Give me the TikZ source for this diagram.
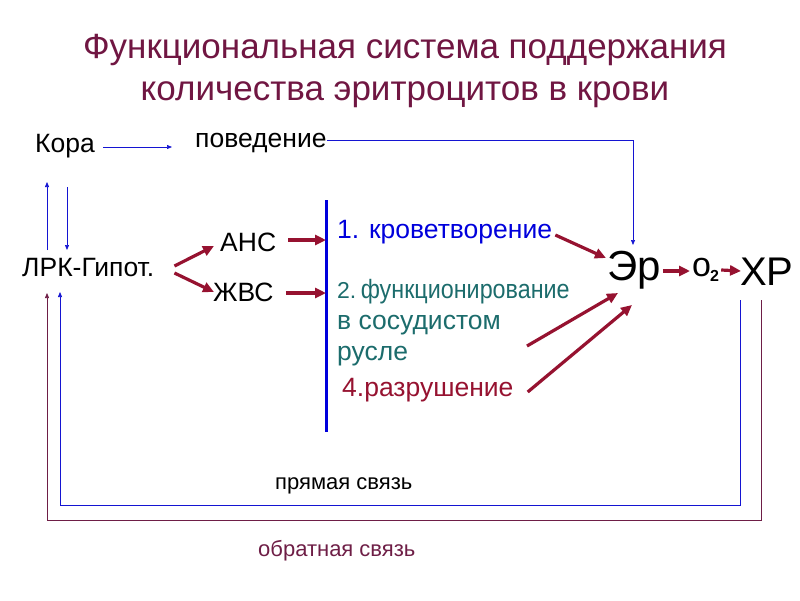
\documentclass[tikz,border=0pt]{standalone}
\usepackage{fontspec}
\setmainfont{Liberation Sans}
\usetikzlibrary{arrows.meta,positioning,calc}
\definecolor{TitlePlum}{RGB}{112,22,66}
\definecolor{ArrowRed}{RGB}{150,18,48}
\definecolor{LineBlue}{RGB}{20,20,210}
\definecolor{BarBlue}{RGB}{0,0,220}
\definecolor{TealText}{RGB}{28,108,108}
\definecolor{BackPlum}{RGB}{110,30,70}
\tikzset{
  lbl/.style={inner sep=0pt,anchor=west,font=\fontsize{26.5}{28}\selectfont},
  bigsym/.style={inner sep=0pt,anchor=west,font=\fontsize{42}{45}\selectfont},
  linktext/.style={inner sep=0pt,anchor=west,font=\fontsize{22}{24}\selectfont},
  redarrow/.style={-{Triangle[length=11pt,width=10pt]},line width=3.2pt,draw=ArrowRed},
  bluearrow/.style={-{Triangle[length=5pt,width=4pt]},line width=0.7pt,draw=LineBlue},
  backarrow/.style={-{Triangle[length=5pt,width=4pt]},line width=0.7pt,draw=BackPlum}
}
\begin{document}
\begin{tikzpicture}[x=1pt,y=-1pt]
\useasboundingbox (0,0) rectangle (800,600);
\node[align=center,text=TitlePlum,font=\fontsize{35}{42}\selectfont] (title) at (405,71)
  {Функциональная система поддержания\\количества эритроцитов в крови};

\node[lbl] (kora) at (35,146) {Кора};
\node[lbl] (povedenie) at (195,143) {поведение};
\node[lbl] (lrk) at (22,268) {ЛРК-Гипот.};
\node[lbl] (ans) at (220,242) {АНС};
\node[lbl] (zhvs) at (213,292) {ЖВС};

\coordinate (bartop) at (326,200);
\coordinate (barbot) at (326,432);
\draw[line width=3pt,draw=BarBlue] (bartop) -- (barbot);

\node[lbl,text=BarBlue] (krov) at (337,232) {1. кроветворение};
\node[lbl,text=TealText,align=left,font=\fontsize{26.5}{31}\selectfont] (func) at (337,323)
  {{\fontsize{23}{24}\selectfont 2.}\,\scalebox{0.88}[1]{функционирование}\\в сосудистом\\русле};
\node[lbl,text=ArrowRed] (razr) at (342,390) {4.разрушение};

\node[bigsym] (er) at (607,270) {Эр};
\node[inner sep=0pt,anchor=west,font=\fontsize{34}{36}\selectfont] (otwo) at (692,270)
  {o\kern-1pt\raisebox{-5pt}{\fontsize{16}{16}\selectfont\bfseries 2}};
\node[bigsym,font=\fontsize{40}{42}\selectfont] (hr) at (740,272) {ХР};

\node[linktext] (pryam) at (275,486) {прямая связь};
\node[linktext,text=BackPlum] (obrat) at (258,551) {обратная связь};

% cortex links
\draw[bluearrow] ($(kora.east)+(8,1)$) -- ($(povedenie.west)+(-23,4)$);
\draw[bluearrow] ($(lrk.west)+(25,-18)$) -- ($(kora.west)+(12,36)$);
\draw[bluearrow] ($(kora.west)+(32,41)$) -- ($(lrk.west)+(45,-18)$);
\draw[bluearrow] ($(povedenie.east)+(0,-3)$) -| ($(er.west)+(26,-25)$);

% efferent arrows
\draw[redarrow] ($(lrk.east)+(20,-2)$) -- ($(ans.west)+(-6,4)$);
\draw[redarrow] ($(lrk.east)+(20,5)$) -- ($(zhvs.west)+(1,0)$);
\draw[redarrow] ($(ans.east)+(12,-2)$) -- ($(ans.east -| bartop)+(0,-2)$);
\draw[redarrow] ($(zhvs.east)+(12,1)$) -- ($(zhvs.east -| bartop)+(0,1)$);

% into Er
\draw[redarrow] ($(krov.east)+(3,3)$) -- ($(er.west)+(-1,-12)$);
\draw[redarrow] ($(func.west)+(190,23)$) -- ($(er.west)+(11,23)$);
\draw[redarrow] ($(razr.east)+(14,2)$) -- ($(er.west)+(25,35)$);

\draw[redarrow] ($(er.east)+(2,1)$) -- ($(otwo.west)+(-2,1)$);
\draw[redarrow] ($(otwo.east)+(2,0)$) -- ($(hr.west)+(1,-1)$);

% feedback loops
\draw[bluearrow] ($(hr.west)+(0,28)$) |- (60,505) -- ($(lrk.west)+(38,24)$);
\draw[backarrow] ($(hr.west)+(21,28)$) |- (47,520) -- ($(lrk.west)+(25,25)$);
\end{tikzpicture}
\end{document}
